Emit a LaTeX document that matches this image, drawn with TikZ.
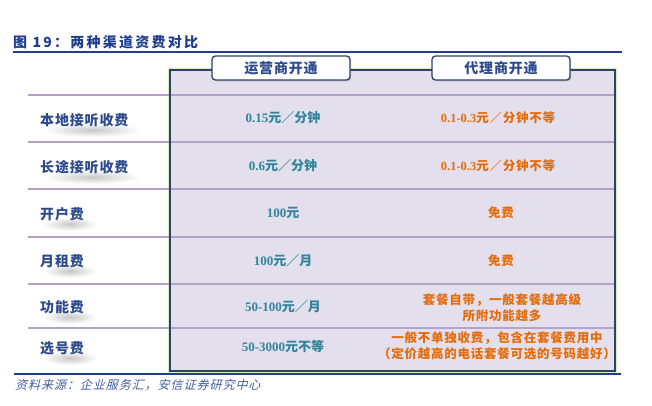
\documentclass[tikz,border=0pt]{standalone}
\usepackage{fontspec}
\setmainfont{Liberation Serif}
\newfontfamily\cjk{Noto Sans CJK SC}
\newfontfamily\cjkwide[LetterSpace=16]{Noto Sans CJK SC}
\newfontfamily\cjkspaced[LetterSpace=6]{Noto Sans CJK SC}
\newfontfamily\cjkslant[FakeSlant=0.25, LetterSpace=8]{Noto Sans CJK SC}
\usetikzlibrary{shadows}
\definecolor{titleblue}{HTML}{1F3F8E}
\definecolor{navy}{HTML}{2F3F6E}
\definecolor{labelblue}{HTML}{2D4A8C}
\definecolor{lavender}{HTML}{E4DFEC}
\definecolor{rowline}{HTML}{B3A3C8}
\definecolor{glow}{HTML}{DDEFB8}
\definecolor{opteal}{HTML}{31849B}
\definecolor{agorange}{HTML}{E46C0A}
\newcommand\dig[1]{{\rmfamily #1}}
\tikzstyle{row label}=[anchor=west, text=labelblue, font=\cjkspaced\bfseries\fontsize{14}{16}\selectfont, inner sep=0pt]
\tikzstyle{label shadow}=[inner color=black!22, outer color=white]
\tikzstyle{operator cell}=[text=opteal, font=\cjk\bfseries\fontsize{13}{15}\selectfont, inner sep=0pt]
\tikzstyle{agent cell}=[text=agorange, font=\cjkspaced\bfseries\fontsize{12.5}{16}\selectfont, align=center, inner sep=0pt]
\tikzstyle{tab}=[draw=navy, line width=1.3pt, fill=white, rounded corners=3.5pt, minimum width=138pt, minimum height=24pt, text=labelblue, font=\cjkspaced\bfseries\fontsize{14}{16}\selectfont, drop shadow={shadow xshift=1.2pt, shadow yshift=-1.4pt, opacity=0.35}]
\tikzstyle{row line}=[draw=rowline, line width=1.3pt]
\tikzstyle{blue rule}=[draw=titleblue, line width=1.1pt]
\tikzstyle{note}=[anchor=west, inner sep=0pt]

\begin{document}
\begin{tikzpicture}[x=1pt, y=-1pt]
	\useasboundingbox (0,0) rectangle (652,405);
	% Caption and the rule below it
	\node[note, text=titleblue, font=\cjkwide\bfseries\fontsize{14}{16}\selectfont] (title) at (13,42) {图 19：两种渠道资费对比};
	\path[blue rule] (13,52) -- (622,52);
	
	% Table body
	\draw[glow, line width=4.5pt] (170,70) rectangle (615,371);
	\fill[lavender] (170,70) rectangle (615,371);
	\foreach \y in {95,142,189,237,284,328}
	\path[row line] (28,\y) -- (615,\y);
	\draw[navy, line width=1.6pt] (170,70) rectangle (615,371);
	
	% Column heads
	\node[tab] (opHead) at (281,68) {运营商开通};
	\node[tab] (agHead) at (501,68) {代理商开通};
	
	% Row labels with their soft shadows
	\foreach \y/\w/\label/\name in {
		120/88/lab1/本地接听收费,
		167/88/lab2/长途接听收费,
		214/44/lab3/开户费,
		261/44/lab4/月租费,
		307/44/lab5/功能费,
		348/44/lab6/选号费}
	{
		\shade[label shadow] (40+\w/2+8,\y+10) ellipse ({\w/2+5} and 7);
		\node[row label] (\label) at (40,\y) {\name};
	}
	
	% Operator column
	\foreach \pos/\label/\name in {
		{(283,118)/op1/\dig{0.15}元／分钟},
		{(283,166)/op2/\dig{0.6}元／分钟},
		{(283,213)/op3/\dig{100}元},
		{(283,261)/op4/\dig{100}元／月},
		{(283,307)/op5/\dig{50-100}元／月},
		{(283,346)/op6/\dig{50-3000}元不等}}
	\node[operator cell] (\label) at \pos {\name};
	
	% Agent column
	\foreach \pos/\label/\name in {
		{(498,118)/ag1/\dig{0.1-0.3}元／分钟不等},
		{(498,166)/ag2/\dig{0.1-0.3}元／分钟不等},
		{(501,213)/ag3/免费},
		{(501,261)/ag4/免费},
		{(502,308)/ag5/套餐自带，一般套餐越高级\\所附功能越多},
		{(497,346)/ag6/一般不单独收费，包含在套餐费用中\\（定价越高的电话套餐可选的号码越好）}}
	\node[agent cell] (\label) at \pos {\name};
	
	% Source line
	\path[blue rule] (14,374) -- (621,374);
	\node[note, text=titleblue!85, font=\cjkslant\fontsize{12}{14}\selectfont] (source) at (15,385) {资料来源：企业服务汇，安信证券研究中心};
\end{tikzpicture}
\end{document}
